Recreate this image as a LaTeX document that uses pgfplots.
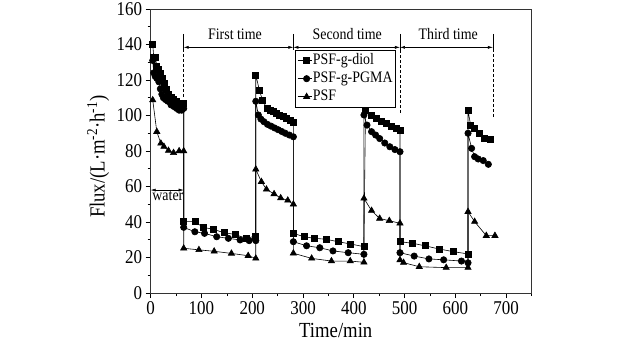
\documentclass[border=0pt]{standalone}
\usepackage{fontspec}
\setmainfont{Liberation Serif}[FakeStretch=0.87]
\usepackage{pgfplots}
\pgfplotsset{compat=1.18}
\usetikzlibrary{arrows.meta}

\begin{document}
\begin{tikzpicture}
\useasboundingbox (0,0) rectangle (633pt,357pt);
\begin{axis}[
  at={(150.7pt,64pt)}, anchor=south west,
  scale only axis, width=380.8pt, height=284pt,
  xmin=0, xmax=750, ymin=0, ymax=160,
  xtick={0,100,...,700}, ytick={0,20,...,160},
  minor xtick={50,150,...,750}, minor ytick={10,30,...,150},
  tick pos=left, tick align=outside,
  major tick length=5pt, minor tick length=3pt,
  axis line style={line width=0.8pt, draw=black!80},
  every tick/.style={black, line width=0.7pt},
  /pgf/number format/assume math mode=true,
  tick label style={font=\fontsize{19.5}{20}\selectfont},
  label style={font=\fontsize{21.5}{23}\selectfont},
  xlabel={Time/min},
  ylabel={Flux/(L·m\textsuperscript{-2}·h\textsuperscript{-1})},
  xlabel style={at={(axis description cs:0.486,-0.155)}, anchor=base},
  ylabel style={at={(axis description cs:-0.138,0.48)}, anchor=center},
  legend style={at={(0.379,0.856)}, anchor=north west, draw=black, line width=0.6pt,
    inner sep=2pt, font=\fontsize{16}{18}\selectfont,
    nodes={inner sep=1pt, text height=11pt, text depth=4pt}, row sep=1pt},
  legend cell align=left,
  legend image code/.code={\draw[mark repeat=2,mark phase=2] plot coordinates {(0pt,0pt) (9pt,0pt) (14pt,0pt)};},
]
% PSF-g-diol
\addplot[black, line width=0.6pt, mark=square*, mark size=3pt] coordinates {
 (4,140) (6,133) (9,133) (12,128) (15,126) (19,124) (23,121) (27,118) (31,115) (35,112)
 (40,110) (45,109) (50,108) (56,107) (61,106) (65,107)
 (65,40.2) (87,40.2) (103,37) (123,35.9) (144,34) (166,33) (188,30.8) (207,32.1)
 (207,122.8) (214,114.4) (220,108.7) (229,104) (235,103) (241,102.1) (248,101.2) (254,100.3)
 (261,99.3) (268,98.4) (274,97.2) (281,96)
 (281,33.6) (302,31.7) (323,30.8) (345,30.3) (369,28.9) (394,27.6) (420,26.1)
 (423,103) (435,100.3) (445,98.4) (455,97) (464,95.5) (474,94) (484,92.7) (491,91.8)
 (491,28.9) (516,28) (540,26.6) (568,24.8) (596,23.3) (625,22)
 (625,103) (630,94.6) (638,92.8) (648,90) (658,87.2) (668,86.6)
};
\addlegendentry{PSF-g-diol}
% PSF-g-PGMA
\addplot[black, line width=0.6pt, mark=*, mark size=3.2pt] coordinates {
 (4,131) (6,124) (9,122) (12,121) (16,119) (19,115) (22,112) (25,110) (29,109) (34,108)
 (40,106) (46,105) (51,104) (56,103) (61,103) (65,104)
 (65,37) (87,34.5) (106,33.6) (130,31.7) (153,30.8) (176,29.9) (194,29.5) (207,29.5)
 (207,108) (212,100.3) (217,98) (223,96.5) (230,95) (237,94) (244,93) (251,92)
 (258,91) (265,90) (273,89) (281,88)
 (281,28.9) (307,26.6) (333,25.5) (359,23.7) (389,22.7) (420,21.8)
 (420,100.3) (426,94.6) (435,90.9) (443,89) (451,87) (461,84.5) (471,82.4) (481,80.8) (491,79.6)
 (491,22.7) (519,20.8) (548,19.2) (577,18.7) (612,18) (625,17)
 (625,90) (632,81.5) (638,76.8) (645,75.5) (655,74.6) (665,72.5)
};
\addlegendentry{PSF-g-PGMA}
% PSF
\addplot[black, line width=0.6pt, mark=triangle*, mark size=3.6pt] coordinates {
 (4,108.7) (12,90.9) (20,84.3) (26,82.5) (35,80.2) (45,79) (56,80) (65,80)
 (65,25.2) (95,24.3) (125,23.5) (159,22.3) (192,21) (207,19.5)
 (207,69.7) (218,62.7) (228,58.4) (243,55.8) (256,53.5) (270,52.2) (281,50)
 (281,22.4) (317,19.5) (356,18) (393,18) (420,17.3)
 (420,53.3) (435,46.4) (451,42) (470,40.7) (491,39.3)
 (491,18.6) (498,17.1) (529,14.8) (582,14.3) (625,14.3)
 (625,45.8) (638,40.2) (661,32.3) (678,32.3)
};
\addlegendentry{PSF}

% dimension annotations
\draw[line width=0.5pt] (axis cs:65,146) -- (axis cs:65,137.5);
\draw[line width=0.5pt, densely dashed] (axis cs:65,137.5) -- (axis cs:65,109.5);
\draw[line width=0.5pt] (axis cs:281,146) -- (axis cs:281,137);
\draw[line width=0.5pt] (axis cs:491,146) -- (axis cs:491,137);
\draw[line width=0.5pt, densely dashed] (axis cs:491,137) -- (axis cs:491,101);
\draw[line width=0.5pt] (axis cs:674,146) -- (axis cs:674,137.5);
\draw[line width=0.5pt, densely dashed] (axis cs:674,137.5) -- (axis cs:674,98.6);
\draw[line width=0.5pt, {Latex[length=5pt,width=3pt]}-{Latex[length=5pt,width=3pt]}] (axis cs:65,138.4) -- (axis cs:281,138.4);
\draw[line width=0.5pt, {Latex[length=5pt,width=3pt]}-{Latex[length=5pt,width=3pt]}] (axis cs:281,138.4) -- (axis cs:491,138.4);
\draw[line width=0.5pt, {Latex[length=5pt,width=3pt]}-{Latex[length=5pt,width=3pt]}] (axis cs:491,138.4) -- (axis cs:674,138.4);
\draw[line width=0.5pt, {Latex[length=5pt,width=3pt]}-{Latex[length=5pt,width=3pt]}] (axis cs:0,58) -- (axis cs:65,58);
\node[anchor=base, font=\fontsize{16}{18}\selectfont, inner sep=0pt] at (axis cs:166,142.8) {First time};
\node[anchor=base, font=\fontsize{16}{18}\selectfont, inner sep=0pt] at (axis cs:387,142.8) {Second time};
\node[anchor=base, font=\fontsize{16}{18}\selectfont, inner sep=0pt] at (axis cs:586,142.8) {Third time};
\node[anchor=base west, font=\fontsize{16}{18}\selectfont, inner sep=0pt] at (axis cs:3,52) {water};
\end{axis}
\end{tikzpicture}
\end{document}
